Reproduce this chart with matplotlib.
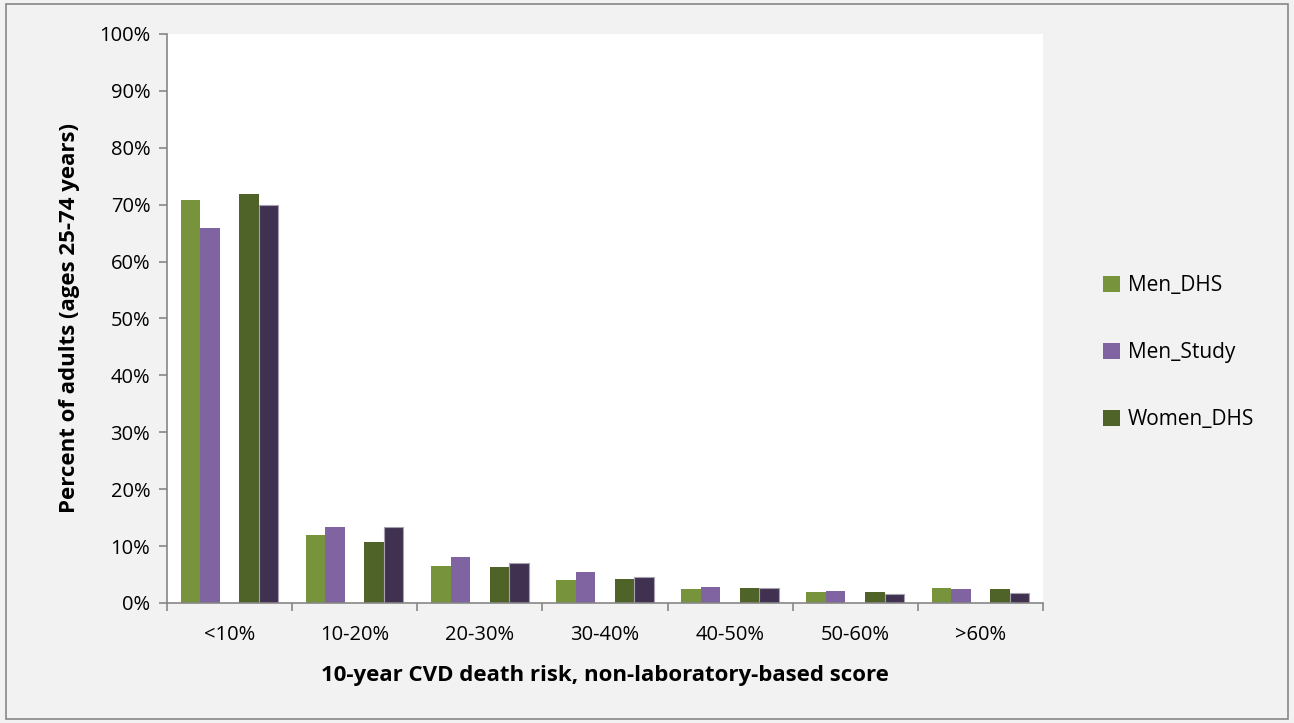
import numpy as np
import matplotlib
matplotlib.use('Agg')
import matplotlib.pyplot as plt
from matplotlib.ticker import FuncFormatter

plt.rcParams['font.family'] = ['Open Sans', 'DejaVu Sans']

categories = ['<10%', '10-20%', '20-30%', '30-40%', '40-50%', '50-60%', '>60%']
men_dhs = [70.8, 11.9, 6.5, 4.0, 2.5, 1.9, 2.6]
men_study = [65.9, 13.4, 8.1, 5.4, 2.8, 2.1, 2.5]
women_dhs = [71.9, 10.7, 6.3, 4.2, 2.6, 1.9, 2.5]
women_study = [69.9, 13.4, 7.1, 4.6, 2.6, 1.5, 1.7]

fig = plt.figure(figsize=(12.94, 7.23), dpi=100)
fig.patch.set_facecolor('#F2F2F2')
# outer border
fig.add_artist(plt.Rectangle((0.005, 0.006), 0.99, 0.988, transform=fig.transFigure,
                             fill=False, edgecolor='#868686', lw=1.2))

ax = fig.add_axes([0.129, 0.166, 0.677, 0.787])
ax.set_facecolor('white')

x = np.arange(len(categories))
w = 0.156
b1 = ax.bar(x - 2 * w, men_dhs, w, color='#77933C', label='Men_DHS')
b2 = ax.bar(x - w, men_study, w, color='#8064A2', label='Men_Study')
b3 = ax.bar(x + w, women_dhs, w, color='#4F6228', label='Women_DHS')
b4 = ax.bar(x + 2 * w, women_study, w, color='#403151', edgecolor='#A6A1AE', lw=0.8)

ax.set_xlim(-0.5, len(categories) - 0.5)
ax.set_ylim(0, 100)
ax.set_yticks(np.arange(0, 101, 10))
ax.yaxis.set_major_formatter(FuncFormatter(lambda v, p: '%d%%' % v))
ax.set_xticks(x)
ax.set_xticklabels(categories)
ax.set_xticks(np.arange(-0.5, len(categories), 1), minor=True)
ax.tick_params(axis='x', which='major', length=0, pad=16, labelsize=14.5)
ax.tick_params(axis='x', which='minor', length=6, color='#868686', width=1.2)
ax.tick_params(axis='y', length=6, color='#868686', width=1.2, labelsize=14.5, pad=6)

for s in ['top', 'right']:
    ax.spines[s].set_visible(False)
for s in ['left', 'bottom']:
    ax.spines[s].set_color('#868686')
    ax.spines[s].set_linewidth(1.2)

ax.set_xlabel('10-year CVD death risk, non-laboratory-based score', fontsize=16,
              fontweight='bold', labelpad=14)
ax.set_ylabel('Percent of adults (ages 25-74 years)', fontsize=16, fontweight='bold',
              labelpad=14)

leg = ax.legend(handles=[b1, b2, b3], loc='center left', bbox_to_anchor=(1.047, 0.44),
                frameon=False, fontsize=15, labelspacing=2.2, handlelength=0.8,
                handleheight=0.8, handletextpad=0.4)

fig.savefig('out.png', dpi=100, facecolor=fig.get_facecolor())
